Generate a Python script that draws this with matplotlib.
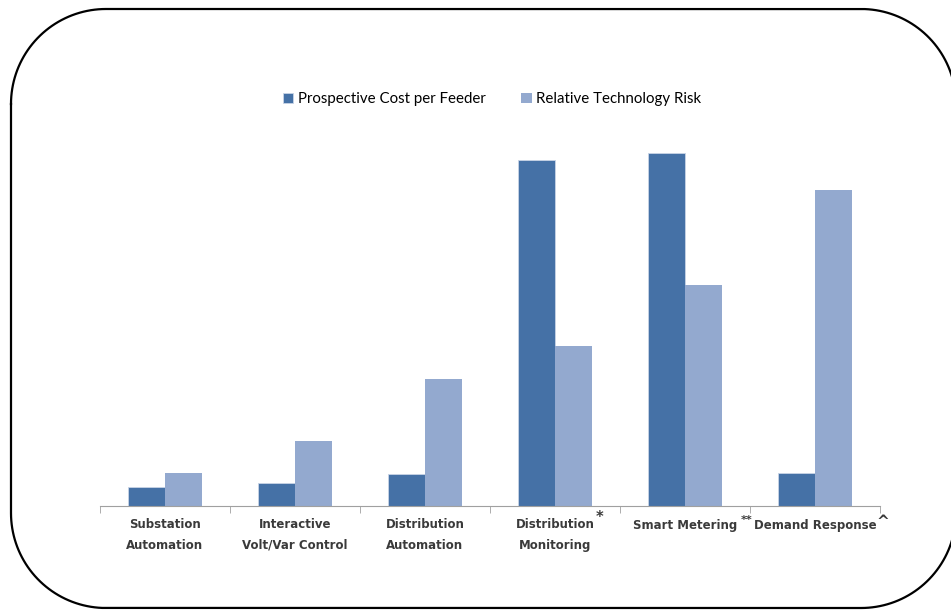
import numpy as np
import matplotlib
matplotlib.use("Agg")
import matplotlib.pyplot as plt

# data (relative units, bar heights)
categories = ["Substation\nAutomation", "Interactive\nVolt/Var Control", "Distribution\nAutomation",
              "Distribution\nMonitoring", "Smart Metering", "Demand Response"]
cost = [19, 23, 32, 346, 353, 33]
risk = [33, 65, 127, 160, 221, 316]
marks = ["", "", "", "*", "**", "^"]
mark_offsets = [0, 0, 0, 0.34, 0.47, 0.52]

dark = "#4571a6"
light = "#93a9cf"

fig = plt.figure(figsize=(9.51, 6.11), dpi=100)
W, H = 951, 611

# rounded frame, drawn in pixel units on a background axes
bg = fig.add_axes([0, 0, 1, 1])
bg.set_xlim(0, W)
bg.set_ylim(H, 0)
bg.axis("off")
x0, x1, y0, y1, r = 11, 956, 9, 608, 95
t = np.linspace(0, np.pi / 2, 40)
px = np.concatenate([x0 + r - r * np.cos(t), x1 - r + r * np.sin(t),
                     x1 - r + r * np.cos(t), x0 + r - r * np.sin(t)])
py = np.concatenate([y0 + r - r * np.sin(t), y0 + r - r * np.cos(t),
                     y1 - r + r * np.sin(t), y1 - r + r * np.cos(t)])
px = np.append(px, px[0])
py = np.append(py, py[0])
bg.plot(px, py, color="black", lw=1.6, clip_on=False)

ax = fig.add_axes([100 / W, (611 - 506) / H, 780 / W, 400 / H])
x = np.arange(len(categories))
w = 0.285
ax.bar(x - w / 2, cost, w, color=dark, label="Prospective Cost per Feeder",
       edgecolor="#c9d4e6", linewidth=0.6)
ax.bar(x + w / 2, risk, w, color=light, label="Relative Technology Risk")

ax.set_xlim(-0.5, len(categories) - 0.5)
ax.set_ylim(0, 400)
for s in ["top", "right", "left"]:
    ax.spines[s].set_visible(False)
ax.spines["bottom"].set_color("#a0a0a0")
ax.set_yticks([])
ax.set_xticks(x)
ax.set_xticklabels(categories, fontsize=8.5, fontweight="bold", color="#3a3a3a",
                   linespacing=1.75, va="top")
ax.tick_params(axis="x", which="major", length=0, pad=9)
ax.set_xticks(np.arange(-0.5, len(categories), 1), minor=True)
ax.tick_params(axis="x", which="minor", length=5, color="#a0a0a0")

mark_sizes = {"*": 10.5, "**": 8, "^": 11}
mark_y = {"*": -4, "**": -9, "^": -8}
for i, m in enumerate(marks):
    if m:
        ax.text(x[i] + mark_offsets[i], mark_y[m], m, fontsize=mark_sizes[m],
                fontweight="bold", color="#3a3a3a", ha="center", va="top", clip_on=False)

fig.legend(loc="center", bbox_to_anchor=(492 / W, (611 - 99) / H), ncol=2, frameon=False,
           prop={"family": "Lato", "size": 10.8}, handlelength=0.7, handleheight=0.7,
           handletextpad=0.3, columnspacing=2.4)

fig.savefig("out.png", dpi=100)
